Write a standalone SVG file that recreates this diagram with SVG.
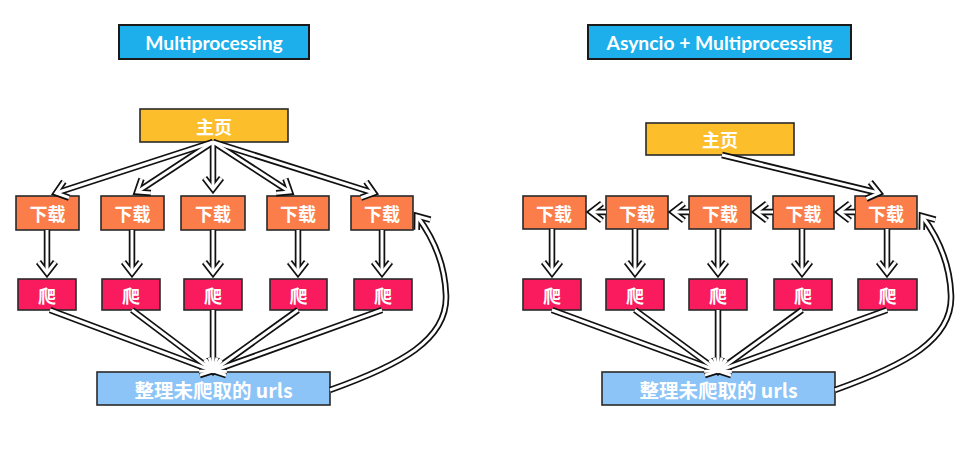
<svg xmlns="http://www.w3.org/2000/svg" width="971" height="476" viewBox="0 0 971 476">
<style>
.box{stroke:#2a2a2a;stroke-width:1.6}
.title{fill:#1CAFEB;stroke:#1a1a1a;stroke-width:2}
.home{fill:#FDBE2C}
.dl{fill:#FB7D4A}
.cr{fill:#FA1B5F}
.urls{fill:#8CC4F7}
text{fill:#fff;font-family:"Noto Sans CJK SC","Lato","Liberation Sans",sans-serif;font-weight:bold;text-anchor:middle;dominant-baseline:central}
.tt{font-family:"Lato","Open Sans","Liberation Sans",sans-serif;font-size:19.3px}
.cn{font-size:18px}
.o{fill:none;stroke:#111;stroke-width:6.5;marker-end:url(#ao)}
.i{fill:none;stroke:#fff;stroke-width:3;marker-end:url(#ai)}
</style>
<defs>
<marker id="ao" markerUnits="userSpaceOnUse" viewBox="-20 -20 40 40" markerWidth="40" markerHeight="40" refX="0" refY="0" orient="auto"><path d="M-11,-8.5 L0,0 L-11,8.5" fill="none" stroke="#111" stroke-width="6.5" stroke-linejoin="miter"/></marker>
<marker id="ai" markerUnits="userSpaceOnUse" viewBox="-20 -20 40 40" markerWidth="40" markerHeight="40" refX="0" refY="0" orient="auto"><path d="M-11,-8.5 L0,0 L-11,8.5" fill="none" stroke="#fff" stroke-width="3" stroke-linejoin="miter"/></marker>
</defs>
<rect width="971" height="476" fill="#fff"/>

<!-- Left panel -->
<g id="title-left"><rect class="title" x="119" y="25" width="190" height="34"/><text class="tt" x="214" y="42">Multiprocessing</text></g>
<g id="home-left"><rect class="box home" x="140" y="109" width="148" height="33"/><text class="cn" x="214" y="126">主页</text></g>
<g id="dl-l1"><rect class="box dl" x="16" y="196" width="63" height="34"/><text class="cn" x="47.5" y="213">下载</text></g>
<g id="dl-l2"><rect class="box dl" x="101" y="196" width="63" height="34"/><text class="cn" x="132.5" y="213">下载</text></g>
<g id="dl-l3"><rect class="box dl" x="181" y="196" width="64" height="34"/><text class="cn" x="213" y="213">下载</text></g>
<g id="dl-l4"><rect class="box dl" x="267" y="196" width="62" height="34"/><text class="cn" x="298" y="213">下载</text></g>
<g id="dl-l5"><rect class="box dl" x="351" y="196" width="62" height="34"/><text class="cn" x="382" y="213">下载</text></g>
<g id="cr-l1"><rect class="box cr" x="18" y="279" width="58" height="31"/><text class="cn" x="47" y="295">爬</text></g>
<g id="cr-l2"><rect class="box cr" x="102" y="279" width="58" height="31"/><text class="cn" x="131" y="295">爬</text></g>
<g id="cr-l3"><rect class="box cr" x="184" y="279" width="58" height="31"/><text class="cn" x="213" y="295">爬</text></g>
<g id="cr-l4"><rect class="box cr" x="270" y="279" width="57" height="31"/><text class="cn" x="298.5" y="295">爬</text></g>
<g id="cr-l5"><rect class="box cr" x="354" y="279" width="58" height="31"/><text class="cn" x="383" y="295">爬</text></g>
<g id="urls-left"><rect class="box urls" x="97" y="372" width="233" height="33"/><text class="cn" x="213.5" y="389" style="font-size:19.5px">整理未爬取的 urls</text></g>

<!-- Right panel -->
<g id="title-right"><rect class="title" x="588" y="25" width="263" height="34"/><text class="tt" x="719.5" y="42">Asyncio + Multiprocessing</text></g>
<g id="home-right"><rect class="box home" x="646" y="123" width="148" height="32"/><text class="cn" x="720" y="139">主页</text></g>
<g id="dl-r1"><rect class="box dl" x="523" y="196" width="63" height="33"/><text class="cn" x="554" y="212.5">下载</text></g>
<g id="dl-r2"><rect class="box dl" x="606" y="196" width="62" height="33"/><text class="cn" x="637" y="212.5">下载</text></g>
<g id="dl-r3"><rect class="box dl" x="689" y="196" width="62" height="33"/><text class="cn" x="720" y="212.5">下载</text></g>
<g id="dl-r4"><rect class="box dl" x="773" y="196" width="61" height="33"/><text class="cn" x="803.5" y="212.5">下载</text></g>
<g id="dl-r5"><rect class="box dl" x="855" y="196" width="62" height="33"/><text class="cn" x="886" y="212.5">下载</text></g>
<g id="cr-r1"><rect class="box cr" x="523" y="279" width="58" height="31"/><text class="cn" x="552" y="295">爬</text></g>
<g id="cr-r2"><rect class="box cr" x="606" y="279" width="58" height="31"/><text class="cn" x="635" y="295">爬</text></g>
<g id="cr-r3"><rect class="box cr" x="689" y="279" width="58" height="31"/><text class="cn" x="718" y="295">爬</text></g>
<g id="cr-r4"><rect class="box cr" x="774" y="279" width="58" height="31"/><text class="cn" x="803" y="295">爬</text></g>
<g id="cr-r5"><rect class="box cr" x="858" y="279" width="59" height="31"/><text class="cn" x="887.5" y="295">爬</text></g>
<g id="urls-right"><rect class="box urls" x="602" y="372" width="233" height="33"/><text class="cn" x="718.5" y="389" style="font-size:19.5px">整理未爬取的 urls</text></g>

<g id="connectors">
<g id="outer">
<path class="o" d="M213,142 L56,193"/>
<path class="o" d="M213,142 L137,192"/>
<path class="o" d="M213,142 L213,189"/>
<path class="o" d="M213,142 L290,192"/>
<path class="o" d="M213,142 L374,193"/>
<path class="o" d="M47,230 L47,273"/>
<path class="o" d="M132,230 L132,273"/>
<path class="o" d="M213,230 L213,273"/>
<path class="o" d="M298,230 L298,273"/>
<path class="o" d="M382,230 L382,273"/>
<path class="o" d="M50,310 L213,371"/>
<path class="o" d="M132,310 L213,371"/>
<path class="o" d="M213,310 L213,371"/>
<path class="o" d="M298,310 L213,371"/>
<path class="o" d="M382,310 L213,371"/>
<path class="o" d="M330,390 C400,365 448,340 446,295 C445,265 435,240 417,216"/>
<path class="o" d="M722,155 L879,193"/>
<path class="o" d="M855,212 L839,212"/>
<path class="o" d="M773,212 L756,212"/>
<path class="o" d="M689,212 L673,212"/>
<path class="o" d="M606,212 L591,212"/>
<path class="o" d="M552,229 L552,273"/>
<path class="o" d="M635,229 L635,273"/>
<path class="o" d="M718,229 L718,273"/>
<path class="o" d="M802,229 L802,273"/>
<path class="o" d="M887,229 L887,273"/>
<path class="o" d="M552,310 L718,371"/>
<path class="o" d="M635,310 L718,371"/>
<path class="o" d="M718,310 L718,371"/>
<path class="o" d="M802,310 L718,371"/>
<path class="o" d="M887,310 L718,371"/>
<path class="o" d="M835,390 C905,365 953,340 951,295 C950,265 940,240 922,216"/>
</g>
<g id="inner">
<path class="i" d="M213,142 L56,193"/>
<path class="i" d="M213,142 L137,192"/>
<path class="i" d="M213,142 L213,189"/>
<path class="i" d="M213,142 L290,192"/>
<path class="i" d="M213,142 L374,193"/>
<path class="i" d="M47,230 L47,273"/>
<path class="i" d="M132,230 L132,273"/>
<path class="i" d="M213,230 L213,273"/>
<path class="i" d="M298,230 L298,273"/>
<path class="i" d="M382,230 L382,273"/>
<path class="i" d="M50,310 L213,371"/>
<path class="i" d="M132,310 L213,371"/>
<path class="i" d="M213,310 L213,371"/>
<path class="i" d="M298,310 L213,371"/>
<path class="i" d="M382,310 L213,371"/>
<path class="i" d="M330,390 C400,365 448,340 446,295 C445,265 435,240 417,216"/>
<path class="i" d="M722,155 L879,193"/>
<path class="i" d="M855,212 L839,212"/>
<path class="i" d="M773,212 L756,212"/>
<path class="i" d="M689,212 L673,212"/>
<path class="i" d="M606,212 L591,212"/>
<path class="i" d="M552,229 L552,273"/>
<path class="i" d="M635,229 L635,273"/>
<path class="i" d="M718,229 L718,273"/>
<path class="i" d="M802,229 L802,273"/>
<path class="i" d="M887,229 L887,273"/>
<path class="i" d="M552,310 L718,371"/>
<path class="i" d="M635,310 L718,371"/>
<path class="i" d="M718,310 L718,371"/>
<path class="i" d="M802,310 L718,371"/>
<path class="i" d="M887,310 L718,371"/>
<path class="i" d="M835,390 C905,365 953,340 951,295 C950,265 940,240 922,216"/>
</g>
</g>
</svg>
